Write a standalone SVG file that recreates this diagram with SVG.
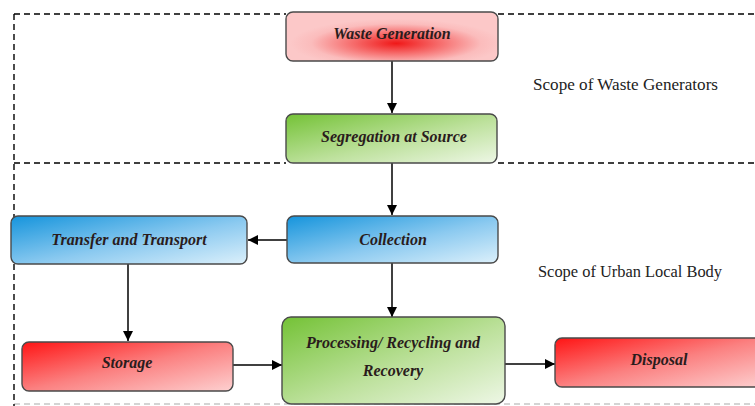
<svg xmlns="http://www.w3.org/2000/svg" width="755" height="406" viewBox="0 0 755 406">
<defs>
<radialGradient id="gRedR" cx="0.52" cy="0.64" r="0.5">
<stop offset="0" stop-color="#f01818"/>
<stop offset="0.4" stop-color="#f66a6a"/>
<stop offset="0.8" stop-color="#fbbcbc"/>
<stop offset="1" stop-color="#fcc8c8"/>
</radialGradient>
<linearGradient id="gRed" x1="0" y1="0" x2="1" y2="1">
<stop offset="0" stop-color="#ff1414"/>
<stop offset="0.5" stop-color="#fb8080"/>
<stop offset="1" stop-color="#fdd0d0"/>
</linearGradient>
<linearGradient id="gGreen" x1="0" y1="0" x2="1" y2="1">
<stop offset="0" stop-color="#74c236"/>
<stop offset="0.55" stop-color="#bde19c"/>
<stop offset="1" stop-color="#eef7e6"/>
</linearGradient>
<linearGradient id="gBlue" x1="0" y1="0" x2="1" y2="1">
<stop offset="0" stop-color="#1594dc"/>
<stop offset="0.55" stop-color="#8ccaf0"/>
<stop offset="1" stop-color="#dcf0fb"/>
</linearGradient>
<marker id="arr" viewBox="0 0 10 10" refX="10" refY="5" markerWidth="10" markerHeight="10" markerUnits="userSpaceOnUse" orient="auto">
<path d="M0,0 L10,5 L0,10 Z" fill="#000"/>
</marker>
</defs>
<style>
.box{stroke:#4a4a4a;stroke-width:1.4}
.lbl{font-style:italic;font-weight:bold;font-size:16px;fill:#2a1c1c;text-anchor:middle}
.scope{font-size:16px;fill:#222}
.dash{stroke:#000;stroke-width:1.4;stroke-dasharray:6 4;fill:none}
.conn{stroke:#000;stroke-width:1.5;fill:none;marker-end:url(#arr)}
</style>
<rect width="755" height="406" fill="#fff"/>
<g id="boundaries">
<line x1="14" y1="404" x2="755" y2="404" stroke="#aaa" stroke-width="1.2" stroke-dasharray="6 4"/>
<line class="dash" x1="14" y1="14" x2="286" y2="14"/>
<line class="dash" x1="498" y1="14" x2="755" y2="14"/>
<line class="dash" x1="14" y1="163" x2="286" y2="163"/>
<line class="dash" x1="498" y1="163" x2="755" y2="163"/>
<line class="dash" x1="14" y1="14" x2="14" y2="406"/>
</g>
<g id="connectors">
<line class="conn" x1="392" y1="61" x2="392" y2="113"/>
<line class="conn" x1="392" y1="163" x2="392" y2="215"/>
<line class="conn" x1="287" y1="240" x2="248" y2="240"/>
<line class="conn" x1="128" y1="264" x2="128" y2="341"/>
<line class="conn" x1="392" y1="263" x2="392" y2="317"/>
<line class="conn" x1="233" y1="365" x2="282" y2="365"/>
<line class="conn" x1="505" y1="364" x2="555" y2="364"/>
</g>
<g font-family="Liberation Serif, Tinos, Times New Roman, Noto Serif, DejaVu Serif, FreeSerif, serif">
<g id="waste-generation">
<rect class="box" x="286" y="12" width="212" height="49" rx="7" fill="url(#gRedR)"/>
<text class="lbl" x="392" y="39">Waste Generation</text>
</g>
<g id="segregation">
<rect class="box" x="286" y="114" width="211" height="49" rx="7" fill="url(#gGreen)"/>
<text class="lbl" x="394" y="142">Segregation at Source</text>
</g>
<g id="collection">
<rect class="box" x="287" y="216" width="211" height="47" rx="7" fill="url(#gBlue)"/>
<text class="lbl" x="393" y="245">Collection</text>
</g>
<g id="transfer">
<rect class="box" x="11" y="216" width="236" height="48" rx="7" fill="url(#gBlue)"/>
<text class="lbl" x="129" y="245">Transfer and Transport</text>
</g>
<g id="storage">
<rect class="box" x="22" y="342" width="211" height="49" rx="7" fill="url(#gRed)"/>
<text class="lbl" x="127" y="368">Storage</text>
</g>
<g id="processing">
<rect class="box" x="282" y="317" width="223" height="87" rx="9" fill="url(#gGreen)"/>
<text class="lbl" x="393" y="348">Processing/ Recycling and</text>
<text class="lbl" x="393" y="376">Recovery</text>
</g>
<g id="disposal">
<rect class="box" x="555" y="338" width="210" height="49" rx="7" fill="url(#gRed)"/>
<text class="lbl" x="659" y="365">Disposal</text>
</g>
<g id="scope-labels">
<text class="scope" x="533" y="90" textLength="185" lengthAdjust="spacingAndGlyphs">Scope of Waste Generators</text>
<text class="scope" x="538" y="277" textLength="184" lengthAdjust="spacingAndGlyphs">Scope of Urban Local Body</text>
</g>
</g>
</svg>
